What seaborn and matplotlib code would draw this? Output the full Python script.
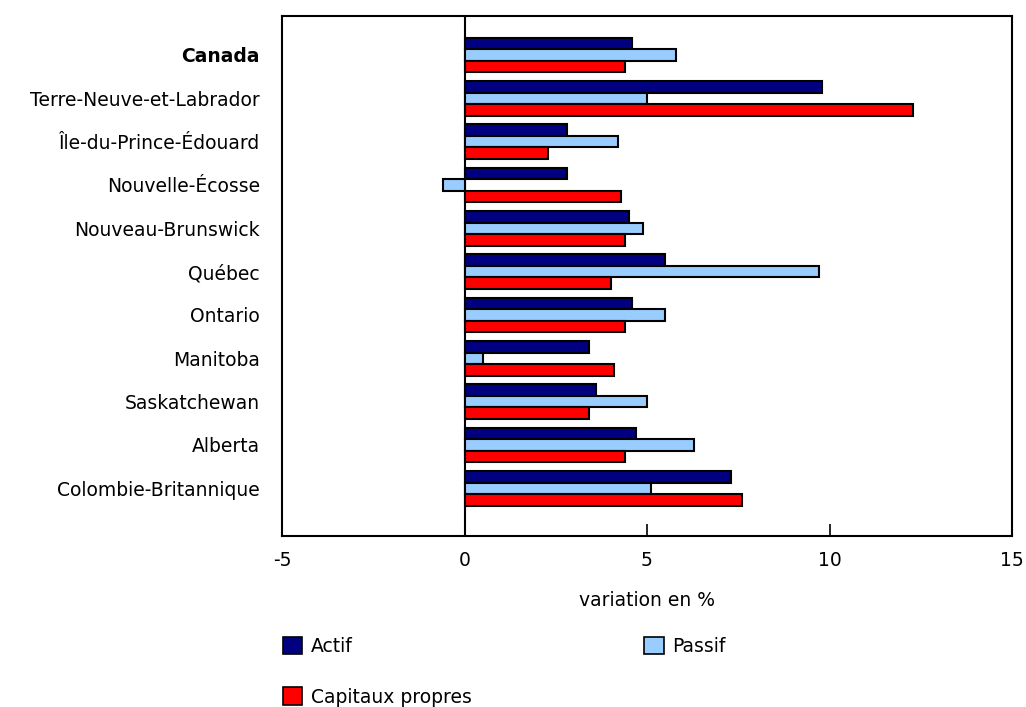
import pandas as pd
import numpy as np
import matplotlib
matplotlib.use("Agg")
import matplotlib.pyplot as plt
import seaborn as sns
from matplotlib.patches import Patch

regions = ['Canada', 'Terre-Neuve-et-Labrador', 'Île-du-Prince-Édouard', 'Nouvelle-Écosse',
           'Nouveau-Brunswick', 'Québec', 'Ontario', 'Manitoba', 'Saskatchewan',
           'Alberta', 'Colombie-Britannique']
actif = [4.6, 9.8, 2.8, 2.8, 4.5, 5.5, 4.6, 3.4, 3.6, 4.7, 7.3]
passif = [5.8, 5.0, 4.2, -0.6, 4.9, 9.7, 5.5, 0.5, 5.0, 6.3, 5.1]
capitaux = [4.4, 12.3, 2.3, 4.3, 4.4, 4.0, 4.4, 4.1, 3.4, 4.4, 7.6]

series = ['Actif', 'Passif', 'Capitaux propres']
colors = {'Actif': '#000080', 'Passif': '#99CCFF', 'Capitaux propres': '#FF0000'}

df = pd.DataFrame({'region': regions, 'Actif': actif, 'Passif': passif,
                   'Capitaux propres': capitaux})
long_df = df.melt(id_vars='region', var_name='serie', value_name='valeur')

sns.set_style('white')
plt.rcParams['font.family'] = ['DejaVu Sans']
plt.rcParams['text.color'] = 'black'
plt.rcParams['axes.labelcolor'] = 'black'
plt.rcParams['xtick.color'] = 'black'
plt.rcParams['ytick.color'] = 'black'
fs = 13.5

fig = plt.figure(figsize=(10.26, 7.07), dpi=100)
ax = fig.add_axes([282 / 1026, 1 - 536 / 707, (1012 - 282) / 1026, (536 - 16) / 707])

sns.barplot(data=long_df, y='region', x='valeur', hue='serie', order=regions,
            hue_order=series, palette=colors, orient='h', width=0.8,
            edgecolor='black', linewidth=1.5, saturation=1, legend=False, ax=ax)

ax.axvline(0, color='black', linewidth=1.5, zorder=0)
ax.set_xlim(-5, 15)
ax.set_ylim(11.1, -0.9)
ax.set_xticks([-5, 0, 5, 10, 15])
ax.set_xticklabels(['-5', '0', '5', '10', '15'], fontsize=fs)
ax.tick_params(axis='x', direction='in', length=9, width=1.2, bottom=True, pad=11)
ax.tick_params(axis='y', length=0, pad=16)
ax.set_ylabel('')
ax.set_xlabel('variation en %', fontsize=fs, labelpad=15)
for lbl in ax.get_yticklabels():
    lbl.set_fontsize(fs)
    if lbl.get_text() == 'Canada':
        lbl.set_fontweight('bold')
for sp in ax.spines.values():
    sp.set_color('black')
    sp.set_linewidth(1.5)

handles = [Patch(facecolor=colors[s], edgecolor='black', linewidth=1.2, label=s)
           for s in ['Actif', 'Capitaux propres', 'Passif']]
fig.legend(handles=handles, loc='upper left', bbox_to_anchor=(275 / 1026, 1 - 629 / 707),
           ncol=2, frameon=False, fontsize=fs, handlelength=1.05, handleheight=1.05,
           handletextpad=0.45, labelspacing=1.7, columnspacing=9.2, borderaxespad=0)

fig.savefig('out.png', dpi=100)
